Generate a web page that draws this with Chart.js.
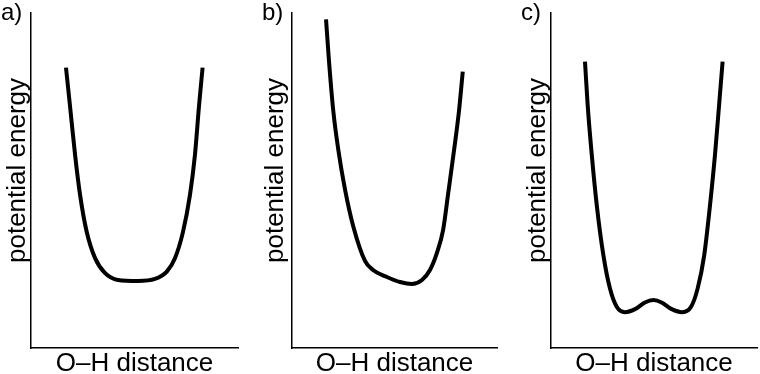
<!DOCTYPE html>
<html>
<head>
<meta charset="utf-8">
<script src="https://cdn.jsdelivr.net/npm/chart.js@4/dist/chart.umd.min.js"></script>
<style>
  html, body { margin: 0; padding: 0; background: #fff; overflow: hidden; }
  #wrap { position: relative; width: 760px; height: 374px; overflow: hidden; }
  .panel { position: absolute; top: 0; }
  .tag { position: absolute; top: 0; font: 24px "Liberation Sans", Arial, sans-serif; line-height: 24px; color: #000; }
</style>
</head>
<body>
<div id="wrap">
  <div class="panel" style="left:0px"><canvas id="ca" width="250" height="377"></canvas></div>
  <div class="panel" style="left:250px"><canvas id="cb" width="255" height="377"></canvas></div>
  <div class="panel" style="left:505px"><canvas id="cc" width="255" height="377"></canvas></div>
  <div class="tag" style="left:1px">a)</div>
  <div class="tag" style="left:262px">b)</div>
  <div class="tag" style="left:521px">c)</div>
</div>
<script>
// Panel labels and axis titles
const panelLabels = ["a)", "b)", "c)"];
const xTitle = "O\u2013H distance";
const yTitle = "potential energy";

// a) symmetric, flat-bottomed well
const xA = [16.9, 18.8, 21.3, 23.7, 26.9, 30.9, 35.7, 42.0, 51.7, 59.9, 65.6, 69.6, 73.4, 76.8, 79.2, 81.2, 82.9];
const yA = [83.7, 72.5, 57.6, 45.7, 34.7, 26.9, 22.4, 20.3, 20.0, 20.6, 22.8, 26.9, 34.6, 45.7, 57.6, 72.5, 83.7];

// b) asymmetric well
const xB = [16.6, 18.0, 20.1, 22.6, 25.9, 29.8, 35.6, 39.5, 46.3, 52.7, 58.5, 63.4, 67.3, 70.7, 73.7, 76.2, 79.5, 81.5, 83.3];
const yB = [98.1, 86.0, 71.0, 59.1, 47.2, 36.5, 26.0, 23.3, 21.2, 19.7, 19.1, 20.3, 23.3, 28.4, 35.2, 46.2, 61.1, 71.0, 82.5];

// c) double well
const xC = [16.5, 17.8, 19.8, 22.2, 25.4, 28.6, 31.9, 35.9, 40.8, 45.6, 49.7, 53.7, 58.6, 63.7, 68.0, 71.2, 74.4, 77.2, 79.6, 81.6, 83.3];
const yC = [85.5, 72.5, 57.6, 42.7, 27.8, 17.8, 12.3, 10.7, 11.6, 13.6, 14.3, 13.6, 11.6, 10.7, 12.3, 17.8, 27.8, 42.7, 57.6, 72.5, 85.5];

const FONT = "'Liberation Sans', Arial, Helvetica, sans-serif";

// shifts the y-axis title upward a little (the reference centres it above the axis midpoint)
const yTitleShift = {
  id: 'yTitleShift',
  beforeDraw(chart) {
    const s = chart.scales.y;
    if (s && !s._shiftPatched) {
      const orig = s.drawTitle.bind(s);
      s.drawTitle = function () {
        const ctx = chart.ctx;
        ctx.save();
        ctx.translate(0, -10);
        orig();
        ctx.restore();
      };
      s._shiftPatched = true;
    }
  }
};

function makeChart(id, xs, ys, pad, yTitleGap) {
  const pts = xs.map((x, i) => ({ x: x, y: ys[i] }));
  return new Chart(document.getElementById(id), {
    type: 'line',
    data: {
      datasets: [{
        data: pts,
        borderColor: '#000',
        borderWidth: 4,
        pointRadius: 0,
        cubicInterpolationMode: 'monotone',
        fill: false,
        clip: false,
        borderCapStyle: 'butt'
      }]
    },
    plugins: [yTitleShift],
    options: {
      responsive: false,
      animation: false,
      devicePixelRatio: 1,
      layout: { padding: pad },
      plugins: { legend: { display: false }, tooltip: { enabled: false }, title: { display: false } },
      scales: {
        x: {
          type: 'linear', min: 0, max: 100,
          grid: { display: false, drawTicks: false },
          border: { display: true, color: '#000', width: 1.5 },
          ticks: { display: false },
          title: { display: true, text: xTitle, color: '#000',
                   font: { family: FONT, size: 26, lineHeight: 1 },
                   padding: { top: 3, bottom: 0 } }
        },
        y: {
          type: 'linear', min: 0, max: 100,
          grid: { display: false, drawTicks: false },
          border: { display: true, color: '#000', width: 1.5 },
          ticks: { display: false },
          title: { display: true, text: yTitle, color: '#000',
                   font: { family: FONT, size: 26, lineHeight: 1 },
                   padding: { top: 0, bottom: yTitleGap } }
        }
      }
    }
  });
}

makeChart('ca', xA, yA, { left: 5, right: 12, top: 13, bottom: 0 }, 0);
makeChart('cb', xB, yB, { left: 13, right: 8, top: 13, bottom: 0 }, 3);
makeChart('cc', xC, yC, { left: 20, right: 3, top: 13, bottom: 0 }, 0);
</script>
</body>
</html>
